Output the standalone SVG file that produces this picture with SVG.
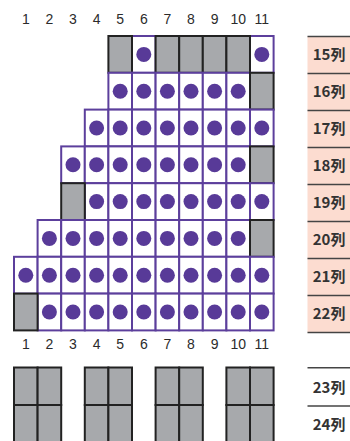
<svg xmlns="http://www.w3.org/2000/svg" width="350" height="441" viewBox="0 0 350 441">
<style>
.num{font-family:"Liberation Sans",Arial,sans-serif;font-size:14px;fill:#2b2b2b;text-anchor:middle}
.lab{font-family:"Noto Sans CJK JP","Noto Sans",sans-serif;font-size:15px;font-weight:bold;fill:#333}
.c{fill:#fff;stroke:#5c3f9c;stroke-width:2}
.g{fill:#a7a9ac;stroke:#222;stroke-width:2}
.d{fill:#583a98}
.pk{fill:#fcdcd0}
.ln{stroke:#444;stroke-width:1.5}
</style>
<defs>
<rect id="cell" class="c" width="23.6" height="36.8"/>
<rect id="gray" class="g" width="23.6" height="36.8"/>
<circle id="dot" class="d" cx="11.8" cy="18.4" r="7.5"/>
</defs>
<g id="top-numbers">
<text class="num" x="25.8" y="23.8">1</text>
<text class="num" x="49.4" y="23.8">2</text>
<text class="num" x="73" y="23.8">3</text>
<text class="num" x="96.6" y="23.8">4</text>
<text class="num" x="120.2" y="23.8">5</text>
<text class="num" x="143.8" y="23.8">6</text>
<text class="num" x="167.4" y="23.8">7</text>
<text class="num" x="191" y="23.8">8</text>
<text class="num" x="214.6" y="23.8">9</text>
<text class="num" x="238.2" y="23.8">10</text>
<text class="num" x="261.8" y="23.8">11</text>
</g>
<g id="row15" transform="translate(0,36)">
<use href="#cell" x="132"/><use href="#dot" x="132"/>
<use href="#cell" x="250"/><use href="#dot" x="250"/>
<use href="#gray" x="108.4"/><use href="#gray" x="155.6"/><use href="#gray" x="179.2"/><use href="#gray" x="202.8"/><use href="#gray" x="226.4"/>
</g>
<g id="row16" transform="translate(0,72.8)">
<use href="#cell" x="108.4"/><use href="#dot" x="108.4"/>
<use href="#cell" x="132"/><use href="#dot" x="132"/>
<use href="#cell" x="155.6"/><use href="#dot" x="155.6"/>
<use href="#cell" x="179.2"/><use href="#dot" x="179.2"/>
<use href="#cell" x="202.8"/><use href="#dot" x="202.8"/>
<use href="#cell" x="226.4"/><use href="#dot" x="226.4"/>
<use href="#gray" x="250"/>
</g>
<g id="row17" transform="translate(0,109.6)">
<use href="#cell" x="84.8"/><use href="#dot" x="84.8"/>
<use href="#cell" x="108.4"/><use href="#dot" x="108.4"/>
<use href="#cell" x="132"/><use href="#dot" x="132"/>
<use href="#cell" x="155.6"/><use href="#dot" x="155.6"/>
<use href="#cell" x="179.2"/><use href="#dot" x="179.2"/>
<use href="#cell" x="202.8"/><use href="#dot" x="202.8"/>
<use href="#cell" x="226.4"/><use href="#dot" x="226.4"/>
<use href="#cell" x="250"/><use href="#dot" x="250"/>
</g>
<g id="row18" transform="translate(0,146.4)">
<use href="#cell" x="61.2"/><use href="#dot" x="61.2"/>
<use href="#cell" x="84.8"/><use href="#dot" x="84.8"/>
<use href="#cell" x="108.4"/><use href="#dot" x="108.4"/>
<use href="#cell" x="132"/><use href="#dot" x="132"/>
<use href="#cell" x="155.6"/><use href="#dot" x="155.6"/>
<use href="#cell" x="179.2"/><use href="#dot" x="179.2"/>
<use href="#cell" x="202.8"/><use href="#dot" x="202.8"/>
<use href="#cell" x="226.4"/><use href="#dot" x="226.4"/>
<use href="#gray" x="250"/>
</g>
<g id="row19" transform="translate(0,183.2)">
<use href="#cell" x="84.8"/><use href="#dot" x="84.8"/>
<use href="#cell" x="108.4"/><use href="#dot" x="108.4"/>
<use href="#cell" x="132"/><use href="#dot" x="132"/>
<use href="#cell" x="155.6"/><use href="#dot" x="155.6"/>
<use href="#cell" x="179.2"/><use href="#dot" x="179.2"/>
<use href="#cell" x="202.8"/><use href="#dot" x="202.8"/>
<use href="#cell" x="226.4"/><use href="#dot" x="226.4"/>
<use href="#cell" x="250"/><use href="#dot" x="250"/>
<use href="#gray" x="61.2"/>
</g>
<g id="row20" transform="translate(0,220)">
<use href="#cell" x="37.6"/><use href="#dot" x="37.6"/>
<use href="#cell" x="61.2"/><use href="#dot" x="61.2"/>
<use href="#cell" x="84.8"/><use href="#dot" x="84.8"/>
<use href="#cell" x="108.4"/><use href="#dot" x="108.4"/>
<use href="#cell" x="132"/><use href="#dot" x="132"/>
<use href="#cell" x="155.6"/><use href="#dot" x="155.6"/>
<use href="#cell" x="179.2"/><use href="#dot" x="179.2"/>
<use href="#cell" x="202.8"/><use href="#dot" x="202.8"/>
<use href="#cell" x="226.4"/><use href="#dot" x="226.4"/>
<use href="#gray" x="250"/>
</g>
<g id="row21" transform="translate(0,256.8)">
<use href="#cell" x="14"/><use href="#dot" x="14"/>
<use href="#cell" x="37.6"/><use href="#dot" x="37.6"/>
<use href="#cell" x="61.2"/><use href="#dot" x="61.2"/>
<use href="#cell" x="84.8"/><use href="#dot" x="84.8"/>
<use href="#cell" x="108.4"/><use href="#dot" x="108.4"/>
<use href="#cell" x="132"/><use href="#dot" x="132"/>
<use href="#cell" x="155.6"/><use href="#dot" x="155.6"/>
<use href="#cell" x="179.2"/><use href="#dot" x="179.2"/>
<use href="#cell" x="202.8"/><use href="#dot" x="202.8"/>
<use href="#cell" x="226.4"/><use href="#dot" x="226.4"/>
<use href="#cell" x="250"/><use href="#dot" x="250"/>
</g>
<g id="row22" transform="translate(0,293.6)">
<use href="#cell" x="37.6"/><use href="#dot" x="37.6"/>
<use href="#cell" x="61.2"/><use href="#dot" x="61.2"/>
<use href="#cell" x="84.8"/><use href="#dot" x="84.8"/>
<use href="#cell" x="108.4"/><use href="#dot" x="108.4"/>
<use href="#cell" x="132"/><use href="#dot" x="132"/>
<use href="#cell" x="155.6"/><use href="#dot" x="155.6"/>
<use href="#cell" x="179.2"/><use href="#dot" x="179.2"/>
<use href="#cell" x="202.8"/><use href="#dot" x="202.8"/>
<use href="#cell" x="226.4"/><use href="#dot" x="226.4"/>
<use href="#cell" x="250"/><use href="#dot" x="250"/>
<use href="#gray" x="14"/>
</g>
<g id="bottom-numbers">
<text class="num" x="25.8" y="349.3">1</text>
<text class="num" x="49.4" y="349.3">2</text>
<text class="num" x="73" y="349.3">3</text>
<text class="num" x="96.6" y="349.3">4</text>
<text class="num" x="120.2" y="349.3">5</text>
<text class="num" x="143.8" y="349.3">6</text>
<text class="num" x="167.4" y="349.3">7</text>
<text class="num" x="191" y="349.3">8</text>
<text class="num" x="214.6" y="349.3">9</text>
<text class="num" x="238.2" y="349.3">10</text>
<text class="num" x="261.8" y="349.3">11</text>
</g>
<g id="rows23-24">
<rect class="g" x="14" y="367.5" width="23.6" height="37.5"/><rect class="g" x="37.6" y="367.5" width="23.6" height="37.5"/>
<rect class="g" x="14" y="405" width="23.6" height="40"/><rect class="g" x="37.6" y="405" width="23.6" height="40"/>
<rect class="g" x="84.8" y="367.5" width="23.6" height="37.5"/><rect class="g" x="108.4" y="367.5" width="23.6" height="37.5"/>
<rect class="g" x="84.8" y="405" width="23.6" height="40"/><rect class="g" x="108.4" y="405" width="23.6" height="40"/>
<rect class="g" x="155.6" y="367.5" width="23.6" height="37.5"/><rect class="g" x="179.2" y="367.5" width="23.6" height="37.5"/>
<rect class="g" x="155.6" y="405" width="23.6" height="40"/><rect class="g" x="179.2" y="405" width="23.6" height="40"/>
<rect class="g" x="226.4" y="367.5" width="23.6" height="37.5"/><rect class="g" x="250" y="367.5" width="23.6" height="37.5"/>
<rect class="g" x="226.4" y="405" width="23.6" height="40"/><rect class="g" x="250" y="405" width="23.6" height="40"/>
</g>
<g id="labels">
<rect class="pk" x="307.5" y="36.5" width="43" height="296"/>
<line class="ln" x1="307.5" y1="36.5" x2="350" y2="36.5"/>
<line class="ln" x1="307.5" y1="73.5" x2="350" y2="73.5"/>
<line class="ln" x1="307.5" y1="110.5" x2="350" y2="110.5"/>
<line class="ln" x1="307.5" y1="147.5" x2="350" y2="147.5"/>
<line class="ln" x1="307.5" y1="184.5" x2="350" y2="184.5"/>
<line class="ln" x1="307.5" y1="221.5" x2="350" y2="221.5"/>
<line class="ln" x1="307.5" y1="258.5" x2="350" y2="258.5"/>
<line class="ln" x1="307.5" y1="295.5" x2="350" y2="295.5"/>
<line class="ln" x1="307.5" y1="332.5" x2="350" y2="332.5"/>
<line class="ln" x1="307.5" y1="367.7" x2="350" y2="367.7"/>
<line class="ln" x1="307.5" y1="406" x2="350" y2="406"/>
<text class="lab" x="312.7" y="59.5">15列</text>
<text class="lab" x="312.7" y="96.5">16列</text>
<text class="lab" x="312.7" y="133.5">17列</text>
<text class="lab" x="312.7" y="170.5">18列</text>
<text class="lab" x="312.7" y="207.5">19列</text>
<text class="lab" x="312.7" y="244.5">20列</text>
<text class="lab" x="312.7" y="281.5">21列</text>
<text class="lab" x="312.7" y="318.5">22列</text>
<text class="lab" x="312.7" y="392.7">23列</text>
<text class="lab" x="312.7" y="430">24列</text>
</g>
</svg>
